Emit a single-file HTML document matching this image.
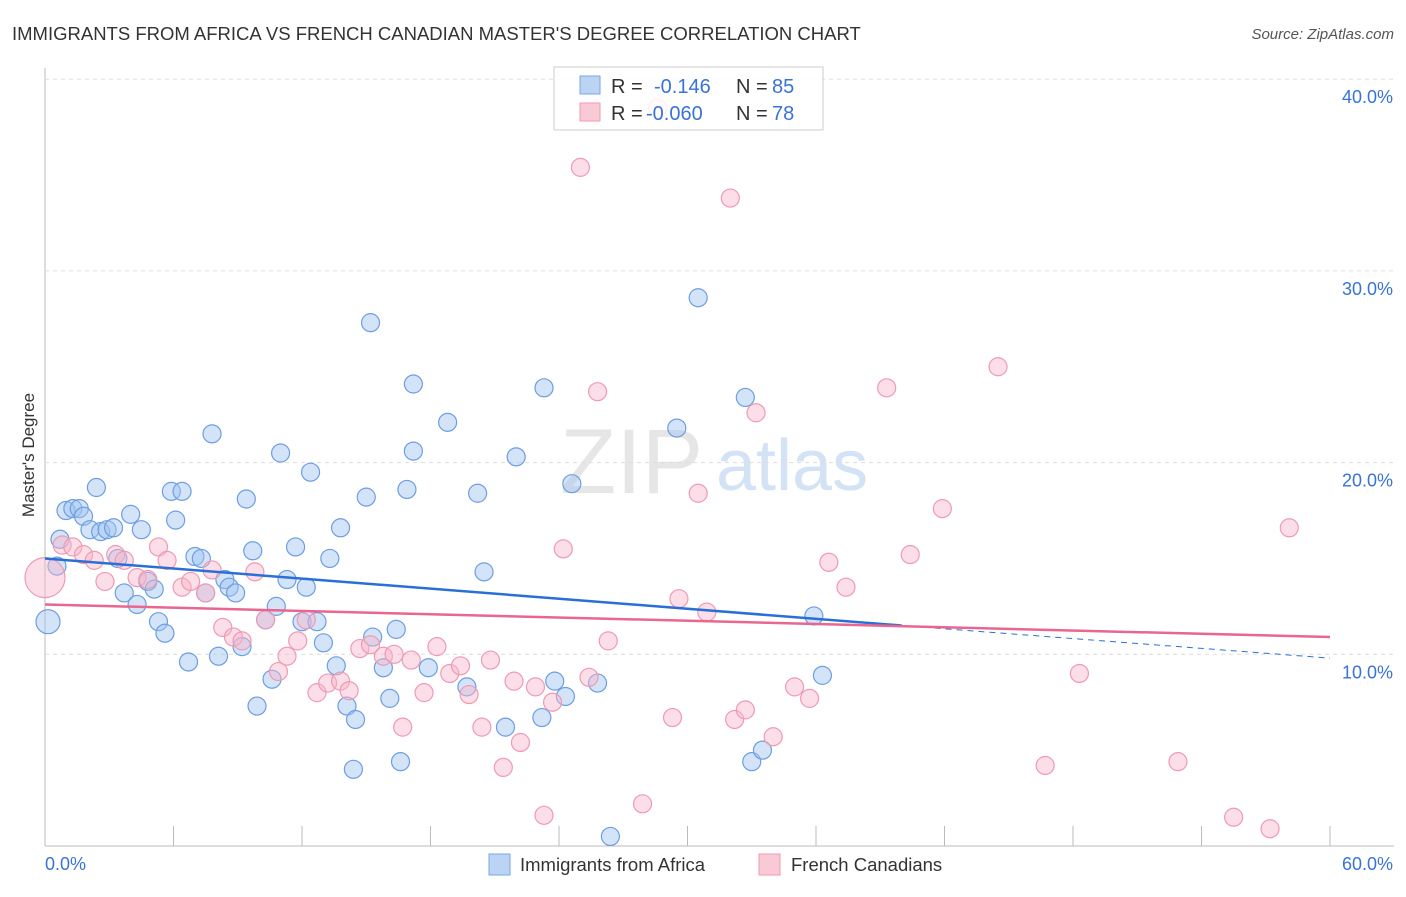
<!DOCTYPE html>
<html><head><meta charset="utf-8"><style>
body{margin:0;background:#fff;font-family:"Liberation Sans",sans-serif}
svg text{font-family:"Liberation Sans",sans-serif}
</style></head><body>
<svg id="c" width="1406" height="892">
<text x="12" y="40" font-size="18.5" fill="#333">IMMIGRANTS FROM AFRICA VS FRENCH CANADIAN MASTER'S DEGREE CORRELATION CHART</text>
<text x="1394" y="39" font-size="15" fill="#555" font-style="italic" text-anchor="end">Source: ZipAtlas.com</text>
<text x="34" y="455" font-size="17" fill="#333" transform="rotate(-90 34 455)" text-anchor="middle">Master's Degree</text>
<text x="560" y="493" font-size="92" fill="#e6e6e6" font-family="Liberation Serif">ZIP</text>
<text x="716" y="490" font-size="72" fill="#d3e2f4">atlas</text>
<g id="grid"></g><g id="marks"></g>
<g>
<rect x="554" y="67" width="269" height="63" fill="#fff" fill-opacity="0.85" stroke="#ccc"/>
<rect x="580" y="76" width="20" height="18" fill="#bcd4f3" stroke="#7aa6e6"/>
<rect x="580" y="103" width="20" height="18" fill="#f9c9d6" stroke="#ee9ab2"/>
<text x="611" y="93" font-size="20" fill="#333">R = </text><text x="654" y="93" font-size="20" fill="#3a72d8">-0.146</text>
<text x="736" y="93" font-size="20" fill="#333">N = </text><text x="772" y="93" font-size="20" fill="#3a72d8">85</text>
<text x="611" y="120" font-size="20" fill="#333">R = </text><text x="646" y="120" font-size="20" fill="#3a72d8">-0.060</text>
<text x="736" y="120" font-size="20" fill="#333">N = </text><text x="772" y="120" font-size="20" fill="#3a72d8">78</text>
</g>
<g>
<rect x="489" y="854" width="21" height="21" fill="#bcd4f3" stroke="#7aa6e6"/>
<text x="520" y="871" font-size="18.5" fill="#333">Immigrants from Africa</text>
<rect x="759" y="854" width="21" height="21" fill="#f9c9d6" stroke="#ee9ab2"/>
<text x="791" y="871" font-size="18.5" fill="#333">French Canadians</text>
</g>
</svg>
<script>
const blueX=[0.14,0.56,0.7,0.98,1.3,1.6,1.8,2.4,2.1,2.6,2.9,3.2,4.0,4.5,3.4,3.7,4.3,4.8,5.1,5.3,5.6,5.9,6.4,6.1,7.0,7.3,7.5,6.7,7.8,8.1,8.4,8.6,8.9,9.2,9.4,9.7,9.9,10.3,10.6,10.8,11.0,11.3,11.7,12.0,12.2,12.4,12.7,13.0,13.3,13.6,13.8,14.1,14.4,14.5,15.0,15.2,15.3,15.8,16.1,16.4,16.6,16.9,17.2,17.2,17.9,18.8,19.7,20.2,20.5,21.5,22.0,23.2,23.3,23.8,24.3,24.6,25.8,26.4,29.5,30.5,32.7,33.0,33.5,35.9,36.3];
const blueY=[11.7,14.6,16.0,17.5,17.6,17.6,17.2,18.7,16.5,16.4,16.5,16.6,17.3,16.5,15.0,13.2,12.6,13.8,13.4,11.7,11.1,18.5,18.5,17.0,15.1,15.0,13.2,9.6,21.5,9.9,13.9,13.5,13.2,10.4,18.1,15.4,7.3,11.8,8.7,12.5,20.5,13.9,15.6,11.7,13.5,19.5,11.7,10.6,15.0,9.4,16.6,7.3,4.0,6.6,18.2,27.3,10.9,9.3,7.7,11.3,4.4,18.6,20.6,24.1,9.3,22.1,8.3,18.4,14.3,6.2,20.3,6.7,23.9,8.6,7.8,18.9,8.5,0.5,21.8,28.6,23.4,4.4,5.0,12.0,8.9];
const pinkX=[0,0.8,1.3,1.8,2.3,2.8,3.3,3.7,4.3,4.8,5.3,5.7,6.4,6.8,7.5,7.8,8.3,8.8,9.2,9.8,10.3,10.9,11.3,11.8,12.2,12.7,13.2,13.8,14.2,14.7,15.2,15.8,16.3,16.7,17.1,17.7,18.3,18.9,19.4,19.8,20.4,20.8,21.4,21.9,22.2,22.9,23.3,23.7,24.2,25.0,25.4,25.8,26.3,27.9,28.6,29.3,29.6,30.5,30.9,32.0,32.2,32.7,33.2,34.0,35.0,35.7,36.6,37.4,39.3,40.4,41.9,44.5,46.7,48.3,52.9,55.5,57.2,58.1];
const pinkY=[14.0,15.7,15.6,15.2,14.9,13.8,15.2,14.9,14.0,13.9,15.6,14.9,13.5,13.8,13.2,14.4,11.4,10.9,10.7,14.3,11.8,9.1,9.9,10.7,11.8,8.0,8.5,8.6,8.1,10.3,10.5,9.9,10.0,6.2,9.7,8.0,10.4,9.0,9.4,7.9,6.2,9.7,4.1,8.6,5.4,8.3,1.6,7.5,15.5,35.4,8.8,23.7,10.7,2.2,38.5,6.7,12.9,18.4,12.2,33.8,6.6,7.1,22.6,5.7,8.3,7.7,14.8,13.5,23.9,15.2,17.6,25.0,4.2,9.0,4.4,1.5,0.9,16.6];
const yTicks=[10,20,30,40];
const yTickLabels=["10.0%","20.0%","30.0%","40.0%"];
const xTicks=[0,6,12,18,24,30,36,42,48,54,60];
const blueTrend=[15.0,11.5,9.8];
const pinkTrend=[12.6,10.9];
const X=v=>45+v/60*1285, Y=v=>846-v*19.17;
const NS="http://www.w3.org/2000/svg";
const grid=document.getElementById('grid'), marks=document.getElementById('marks');
function mk(tag,a,p){const e=document.createElementNS(NS,tag);for(const k in a)e.setAttribute(k,a[k]);p.appendChild(e);return e;}
let ax=mk('line',{x1:45,y1:68,x2:45,y2:846,stroke:'#bbb'},grid);


let bx=mk('line',{x1:45,y1:846,x2:1394,y2:846,stroke:'#bbb'},grid);


yTicks.forEach((t,i)=>{
 let g=mk('line',{x1:45,y1:Y(t),x2:1394,y2:Y(t),stroke:'#ddd','stroke-dasharray':'4,4'},grid);
 
 
 let tx=mk('text',{x:1393,y:Y(t)+24,'font-size':18,fill:'#3a72d8','text-anchor':'end'},grid);tx.textContent=yTickLabels[i];
 
 
});
xTicks.forEach(t=>{
 let l=mk('line',{x1:X(t),y1:826,x2:X(t),y2:846,stroke:'#bbb'},grid);
 
 
});
[[0,"0.0%",'start',45],[60,"60.0%",'end',1393]].forEach(d=>{
 let tx=mk('text',{x:d[3],y:870,'font-size':18,fill:'#3a72d8','text-anchor':d[2]},grid);tx.textContent=d[1];
 
 
});
blueX.forEach((v,i)=>{
 let c=mk('circle',{cx:X(v),cy:Y(blueY[i]),r:v<0.3?12:9,fill:'rgba(160,196,240,0.45)',stroke:'#6d9de3','stroke-width':1.2},marks);
 
 
});
pinkX.forEach((v,i)=>{
 let c=mk('circle',{cx:X(v),cy:Y(pinkY[i]),r:v<0.3?20:9,fill:'rgba(247,182,201,0.45)',stroke:'#ef9ab3','stroke-width':1.2},marks);
 
 
});
let b1=mk('line',{x1:X(0),y1:Y(blueTrend[0]),x2:X(40),y2:Y(blueTrend[1]),stroke:'#2a6fd6','stroke-width':2.5},marks);


let b2=mk('line',{x1:X(40),y1:Y(blueTrend[1]),x2:X(60),y2:Y(blueTrend[2]),stroke:'#2a6fd6','stroke-width':1,'stroke-dasharray':'6,5'},marks);


let p1=mk('line',{x1:X(0),y1:Y(pinkTrend[0]),x2:X(60),y2:Y(pinkTrend[1]),stroke:'#e8668f','stroke-width':2.5},marks);


</script>
</body></html>
